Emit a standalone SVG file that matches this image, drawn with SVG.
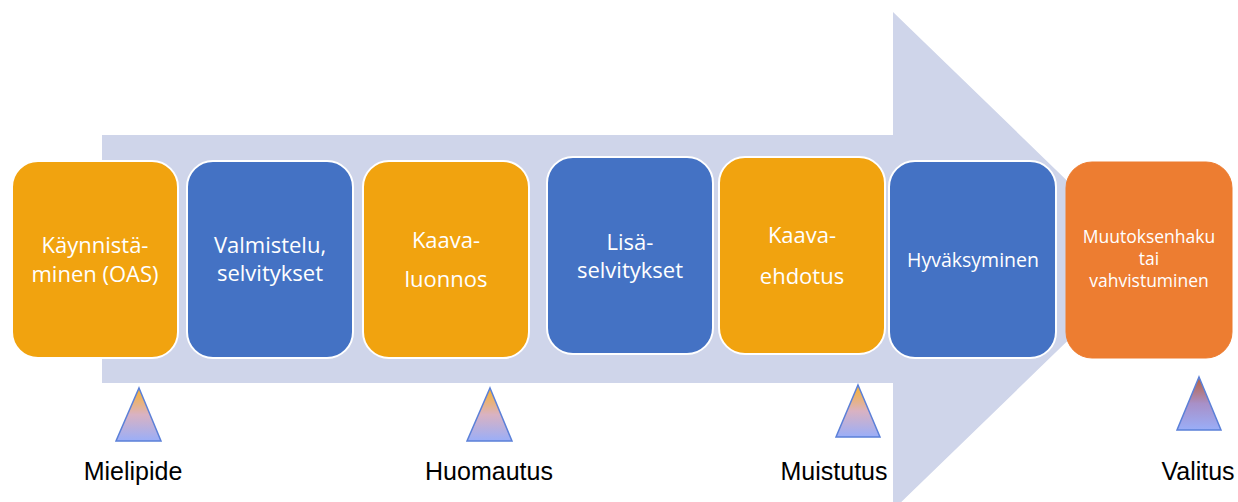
<svg xmlns="http://www.w3.org/2000/svg" width="1238" height="502" viewBox="0 0 1238 502">
<style>
.box{stroke:#ffffff;stroke-width:2}
.or{fill:#F1A30F}
.bl{fill:#4472C4}
.ro{fill:#ED7D31;stroke:#ED7D31;stroke-width:1}
.t{font-family:"Open Sans","Noto Sans",sans-serif;fill:#ffffff;text-anchor:middle;font-size:22px}
.lab{font-family:"Liberation Sans",Arial,sans-serif;fill:#000000;text-anchor:middle;font-size:25px}
.tri{stroke:#5B80D8;stroke-width:1.5}
</style>
<defs>
<linearGradient id="g1" x1="0" y1="0" x2="0" y2="1">
<stop offset="0" stop-color="#FAB22A"/>
<stop offset="0.5" stop-color="#D9B2C2"/>
<stop offset="1" stop-color="#9AAEF8"/>
</linearGradient>
<linearGradient id="g2" x1="0" y1="0" x2="0" y2="1">
<stop offset="0" stop-color="#B8603A"/>
<stop offset="0.5" stop-color="#A890C8"/>
<stop offset="1" stop-color="#9AAEF8"/>
</linearGradient>
</defs>
<g id="arrow">
<polygon points="102,135 893,135 893,12 1150,261 893,510 893,383 102,383" fill="#CFD5EA"/>
</g>
<g id="connectors"></g>
<g id="n1"><rect class="box or" x="12" y="161" width="166" height="197" rx="26"/><text class="t" x="95" y="253">Käynnistä-</text><text class="t" x="95" y="282">minen (OAS)</text></g>
<g id="n2"><rect class="box bl" x="187" y="161" width="166" height="197" rx="26"/><text class="t" x="270" y="253">Valmistelu,</text><text class="t" x="270" y="281">selvitykset</text></g>
<g id="n3"><rect class="box or" x="363" y="161" width="166" height="197" rx="26"/><text class="t" x="446" y="248">Kaava-</text><text class="t" x="446" y="287">luonnos</text></g>
<g id="n4"><rect class="box bl" x="547" y="157" width="166" height="197" rx="26"/><text class="t" x="630" y="250">Lisä-</text><text class="t" x="630" y="278">selvitykset</text></g>
<g id="n5"><rect class="box or" x="719" y="157" width="166" height="197" rx="26"/><text class="t" x="802" y="243">Kaava-</text><text class="t" x="802" y="284">ehdotus</text></g>
<g id="n6"><rect class="box bl" x="889" y="161" width="167" height="197" rx="26"/><text class="t" x="973" y="267" style="font-size:19.5px">Hyväksyminen</text></g>
<g id="n7"><rect class="ro" x="1066" y="162" width="166" height="196" rx="26"/><text class="t" x="1149" y="243" style="font-size:17.5px">Muutoksenhaku</text><text class="t" x="1149" y="265" style="font-size:17.5px">tai</text><text class="t" x="1149" y="287" style="font-size:17.5px">vahvistuminen</text></g>
<g id="m1"><polygon class="tri" points="139,388 161,441 116,441" fill="url(#g1)"/><text class="lab" x="133" y="480">Mielipide</text></g>
<g id="m2"><polygon class="tri" points="490,388 512,441 467,441" fill="url(#g1)"/><text class="lab" x="489" y="480">Huomautus</text></g>
<g id="m3"><polygon class="tri" points="858,385 880,437 836,437" fill="url(#g1)"/><text class="lab" x="834" y="480">Muistutus</text></g>
<g id="m4"><polygon class="tri" points="1199,377 1221,430 1177,430" fill="url(#g2)"/><text class="lab" x="1198" y="480">Valitus</text></g>
</svg>
